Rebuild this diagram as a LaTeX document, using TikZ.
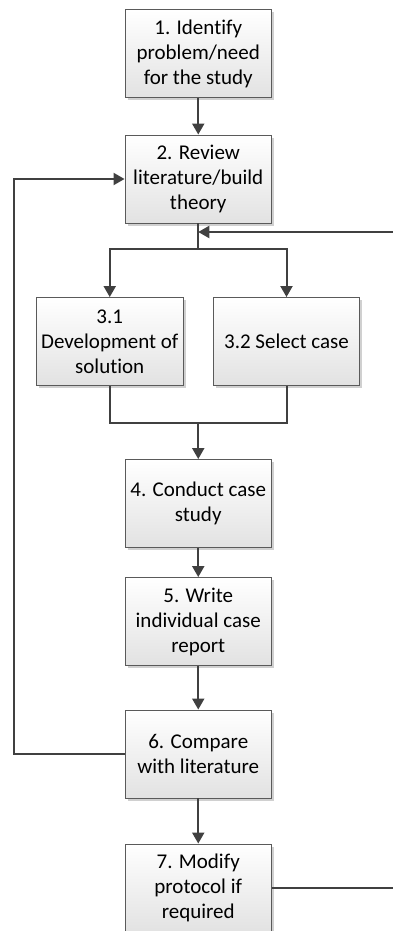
\documentclass[tikz,border=0pt]{standalone}
\usepackage{fontspec}
\setmainfont[Ligatures=NoCommon]{Carlito}
\usetikzlibrary{arrows.meta,shadows}

\definecolor{linegray}{HTML}{404040}
\definecolor{boxedge}{HTML}{5A5A5A}
\definecolor{boxbottom}{HTML}{E2E2E2}
\definecolor{shadowgray}{HTML}{D0D0D0}

\tikzset{
  stepbox/.style={
    draw=boxedge, line width=0.9pt,
    top color=white, bottom color=boxbottom,
    minimum width=146.5pt, minimum height=88pt, inner sep=0pt,
    align=center, font=\fontsize{21}{25}\selectfont, text=black,
    drop shadow={shadow xshift=2.5pt, shadow yshift=-2.5pt, fill=shadowgray, opacity=1}
  },
  flow/.style={draw=linegray, line width=2pt},
  flowarrow/.style={flow, -{Triangle[length=11pt,width=12pt]}},
}

\begin{document}
\begin{tikzpicture}[x=1pt,y=-1pt]
  \useasboundingbox (0,0) rectangle (393,931);
  \clip (0,0) rectangle (393,931);

  % process steps
  \node[stepbox] (b1)  at (198.25,53.6)  {1. Identify\\problem/need\\for the study};
  \node[stepbox] (b2)  at (198.25,179)   {2. Review\\literature/build\\theory};
  \node[stepbox] (b31) at (109.75,341.5) {3.1\\Development of\\solution};
  \node[stepbox] (b32) at (286.5,341.5)  {3.2 Select case};
  \node[stepbox] (b4)  at (198.25,503.5) {4. Conduct case\\study};
  \node[stepbox] (b5)  at (198.25,621.5) {5. Write\\individual case\\report};
  \node[stepbox] (b6)  at (198.25,754)   {6. Compare\\with literature};
  \node[stepbox] (b7)  at (198.25,888)   {7. Modify\\protocol if\\required};

  % junction points
  \coordinate (split) at (198.25,249);
  \coordinate (merge) at (198.25,423);
  \coordinate (loopL) at (14,754);
  \coordinate (loopR) at (397,888);
  \coordinate (join)  at (198.25,232);

  % main flow
  \draw[flowarrow] (b1.south) -- (b2.north);
  \draw[flow] (b2.south) -- (split);
  \draw[flowarrow] (split) -| (b31.north);
  \draw[flowarrow] (split) -| (b32.north);
  \draw[flow] (b31.south) |- (merge);
  \draw[flow] (b32.south) |- (merge);
  \draw[flowarrow] (merge) -- (b4.north);
  \draw[flowarrow] (b4.south) -- (b5.north);
  \draw[flowarrow] (b5.south) -- (b6.north);
  \draw[flowarrow] (b6.south) -- (b7.north);

  % feedback loops
  \draw[flowarrow] (b6.west) -- (loopL) |- (b2.west);
  \draw[flowarrow] (b7.east) -- (loopR) |- (join);
\end{tikzpicture}
\end{document}
